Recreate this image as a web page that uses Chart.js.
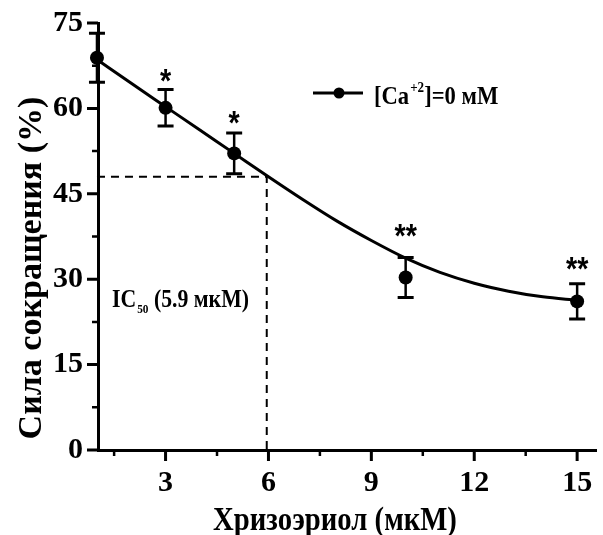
<!DOCTYPE html>
<html><head><meta charset="utf-8">
<script src="https://cdn.jsdelivr.net/npm/chart.js@4.4.0/dist/chart.umd.min.js"></script>
<style>html,body{margin:0;padding:0;background:#fff;}canvas{display:block;}</style>
</head><body>
<canvas id="c" width="603" height="535"></canvas>
<script>
// ---- data ----
const concentrations = [1, 3, 5, 10, 15];
const forceMean = [68.9, 60.1, 52.1, 30.3, 26.1];
const forceErr = [4.3, 3.2, 3.6, 3.5, 3.1];
const significance = ['', '*', '*', '**', '**'];
const fitX = [1, 2, 3, 4, 5, 6, 7, 8, 9, 10, 11, 12, 13, 14, 15];
const fitY = [68.6, 64.4, 60.3, 56.2, 52.1, 48.0, 44.0, 40.2, 36.8, 33.7, 31.2, 29.3, 27.9, 26.9, 26.3];
const ic50Level = 48;
const ic50Conc = 5.95;
const xTicks = [3, 6, 9, 12, 15];
const xMinorTicks = [1.5, 4.5, 7.5, 10.5, 13.5];
const yTicks = [0, 15, 30, 45, 60, 75];
const yMinorTicks = [7.5, 22.5, 37.5, 52.5, 67.5];
const xTitle = 'Хризоэриол (мкМ)';
const yTitle = 'Сила сокращения (%)';
const legendMain = '[Ca';
const legendSup = '+2';
const legendRest = ']=0 мМ';
const icMain = 'IC';
const icSub = '50';
const icRest = ' (5.9 мкМ)';

const SERIF = '"Liberation Serif", "Times New Roman", serif';
const SQ = 0.87;

function txt(ctx, s, x, y, font, align, base) {
  ctx.save();
  ctx.font = font; ctx.textAlign = align || 'left'; ctx.textBaseline = base || 'alphabetic';
  ctx.translate(x, y); ctx.scale(SQ, 1);
  ctx.fillText(s, 0, 0);
  const w = ctx.measureText(s).width * SQ;
  ctx.restore();
  return w;
}

const decorations = {
  id: 'decorations',
  afterDatasetsDraw(chart) {
    const { ctx, scales: { x, y } } = chart;
    ctx.save();
    ctx.strokeStyle = '#000'; ctx.fillStyle = '#000';
    // error bars
    concentrations.forEach((c, i) => {
      const px = x.getPixelForValue(c);
      const t = y.getPixelForValue(forceMean[i] + forceErr[i]);
      const b = y.getPixelForValue(forceMean[i] - forceErr[i]);
      ctx.lineWidth = 2.5;
      ctx.beginPath();
      ctx.moveTo(px, t); ctx.lineTo(px, b);
      ctx.stroke();
      ctx.lineWidth = 3;
      ctx.beginPath();
      ctx.moveTo(px - 8, t); ctx.lineTo(px + 8, t);
      ctx.moveTo(px - 8, b); ctx.lineTo(px + 8, b);
      ctx.stroke();
    });
    // tick marks
    const x0 = x.left, y0 = y.bottom;
    ctx.lineWidth = 3;
    ctx.beginPath();
    xTicks.forEach(v => { const p = x.getPixelForValue(v); ctx.moveTo(p, y0); ctx.lineTo(p, y0 + 11); });
    yTicks.forEach(v => { const p = y.getPixelForValue(v); ctx.moveTo(x0 - 11, p); ctx.lineTo(x0, p); });
    ctx.stroke();
    ctx.lineWidth = 2.5;
    ctx.beginPath();
    xMinorTicks.forEach(v => { const p = x.getPixelForValue(v); ctx.moveTo(p, y0); ctx.lineTo(p, y0 + 6); });
    yMinorTicks.forEach(v => { const p = y.getPixelForValue(v); ctx.moveTo(x0 - 6, p); ctx.lineTo(x0, p); });
    ctx.stroke();
    // significance stars
    const starOffset = [0, 14, 15, 27, 20];
    ctx.font = 'bold 33px "Liberation Sans", Arial, sans-serif';
    concentrations.forEach((c, i) => {
      const s = significance[i];
      if (!s) return;
      const m = ctx.measureText(s);
      const px = x.getPixelForValue(c);
      const cy = y.getPixelForValue(forceMean[i] + forceErr[i]) - starOffset[i];
      const off = (m.actualBoundingBoxAscent - m.actualBoundingBoxDescent) / 2;
      ctx.save(); ctx.textAlign = 'center'; ctx.textBaseline = 'alphabetic';
      ctx.translate(px, cy + off); ctx.scale(SQ, 1); ctx.fillText(s, 0, 0); ctx.restore();
    });
    // IC50 label
    let lx = 112, ly = 307;
    lx += txt(ctx, icMain, lx, ly, 'bold 25px ' + SERIF);
    lx += txt(ctx, icSub, lx + 1, ly + 6, 'bold 13px ' + SERIF) + 1;
    txt(ctx, icRest, lx, ly, 'bold 25px ' + SERIF);
    // legend
    ctx.lineWidth = 3;
    ctx.beginPath(); ctx.moveTo(313, 93); ctx.lineTo(363, 93); ctx.stroke();
    ctx.beginPath(); ctx.arc(339, 93, 5.5, 0, Math.PI * 2); ctx.fill();
    let gx = 374, gy = 104;
    gx += txt(ctx, legendMain, gx, gy, 'bold 26px ' + SERIF);
    gx += txt(ctx, legendSup, gx + 1, gy - 12, 'bold 15px ' + SERIF) + 1;
    txt(ctx, legendRest, gx, gy, 'bold 26px ' + SERIF);
    // axis titles
    txt(ctx, xTitle, 335, 530, 'bold 33px ' + SERIF, 'center');
    ctx.save();
    ctx.translate(41, 268); ctx.rotate(-Math.PI / 2);
    ctx.font = 'bold 34px ' + SERIF; ctx.textAlign = 'center'; ctx.textBaseline = 'alphabetic';
    ctx.fillText(yTitle, 0, 0);
    ctx.restore();
    ctx.restore();
  }
};

const tickFont = { family: SERIF, size: 30, weight: 'bold' };

new Chart(document.getElementById('c'), {
  type: 'line',
  data: {
    datasets: [
      {
        label: 'fit',
        data: fitX.map((v, i) => ({ x: v, y: fitY[i] })),
        borderColor: '#000', borderWidth: 3, pointRadius: 0,
        cubicInterpolationMode: 'monotone', fill: false, clip: false
      },
      {
        label: '[Ca+2]=0 мМ',
        data: concentrations.map((v, i) => ({ x: v, y: forceMean[i] })),
        showLine: false, pointRadius: 7, pointBackgroundColor: '#000',
        pointBorderColor: '#000', pointBorderWidth: 0, clip: false
      },
      {
        label: 'IC50',
        data: [{ x: concentrations[0], y: ic50Level }, { x: ic50Conc, y: ic50Level }, { x: ic50Conc, y: 0 }],
        borderColor: '#000', borderWidth: 2, borderDash: [8, 6], pointRadius: 0, tension: 0, clip: false
      }
    ]
  },
  options: {
    responsive: false, animation: false,
    layout: { padding: { top: 23, right: 4, left: 0, bottom: 0 } },
    plugins: { legend: { display: false }, tooltip: { enabled: false } },
    scales: {
      x: {
        type: 'linear', min: 1.03, max: 15.55,
        afterBuildTicks: s => { s.ticks = xTicks.map(v => ({ value: v })); },
        afterFit: s => { s.height = 85; s.paddingLeft = 0; s.paddingRight = 0; },
        grid: { display: false, drawTicks: false },
        border: { display: true, color: '#000', width: 3 },
        ticks: { color: '#000', font: tickFont, padding: 15, maxRotation: 0 }
      },
      y: {
        type: 'linear', min: 0, max: 75,
        afterBuildTicks: s => { s.ticks = yTicks.map(v => ({ value: v })); },
        afterFit: s => { s.width = 98; s.paddingTop = 0; s.paddingBottom = 0; },
        grid: { display: false, drawTicks: false },
        border: { display: true, color: '#000', width: 3 },
        ticks: { color: '#000', font: tickFont, padding: 15 }
      }
    }
  },
  plugins: [decorations]
});
</script>
</body></html>
